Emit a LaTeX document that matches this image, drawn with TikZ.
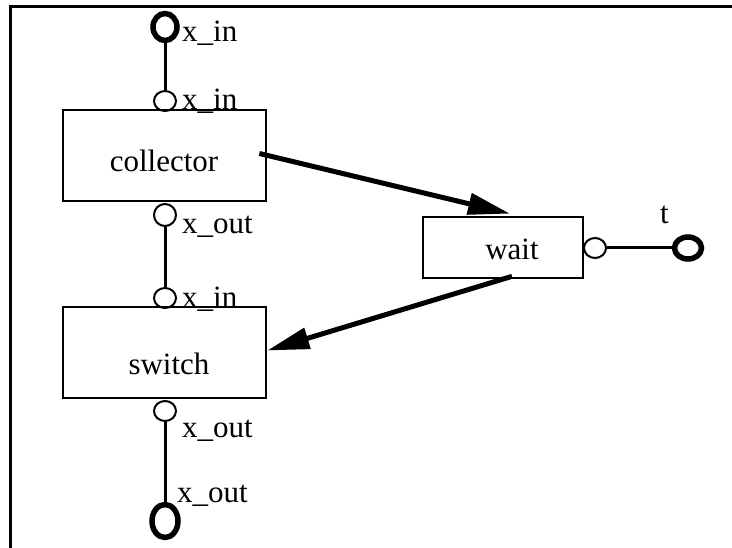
\documentclass[tikz,border=0pt]{standalone}
\usepackage{fontspec}
\setmainfont{Liberation Serif}
\usetikzlibrary{shapes.geometric,arrows.meta,calc}
\begin{document}
\begin{tikzpicture}[x=1pt,y=-1pt,
  blockbox/.style={draw,line width=2.7pt,rectangle,inner sep=0pt},
  port/.style={draw,ellipse,line width=2pt,inner sep=0pt,minimum width=22pt,minimum height=20pt},
  term/.style={draw,ellipse,line width=5.5pt,inner sep=0pt},
  txt/.style={font=\fontsize{31}{36}\selectfont,inner sep=0pt},
  plbl/.style={txt,anchor=base west},
  wire/.style={line width=3pt},
  flow/.style={line width=5pt,-{Triangle[length=42pt,width=21pt]}}]
\useasboundingbox (0,0) rectangle (732,548);
\begin{scope}
\clip (0,0) rectangle (732,548);
\draw[line width=3pt] (10,560) -- (10,6.5) -- (745,6.5);
\end{scope}
% blocks
\node[blockbox,minimum width=203pt,minimum height=91pt] (collector) at (164.5,155.5) {};
\node[blockbox,minimum width=203pt,minimum height=91pt] (switch) at (164.5,352.5) {};
\node[blockbox,minimum width=160pt,minimum height=61pt] (wait) at (503,247.5) {};
\node[txt,anchor=base] (collectortxt) at (164,172) {collector};
\node[txt,anchor=base] (switchtxt) at (169,375) {switch};
\node[txt,anchor=base] (waittxt) at (512,260) {wait};
% ports
\node[port] (cin) at (165,101) {};
\node[port,minimum height=22pt] (cout) at (165,215) {};
\node[port] (sin) at (165,298) {};
\node[port] (sout) at (165,411) {};
\node[port] (wport) at (595,248) {};
% terminals
\node[term,minimum width=24pt,minimum height=27pt] (tin) at (165,27) {};
\node[term,minimum width=26pt,minimum height=33pt] (tout) at (165,521) {};
\node[term,minimum width=27pt,minimum height=22pt] (tt) at (688,248) {};
% labels
\node[plbl] (tinlbl) at (182,42) {x\_in};
\node[plbl] (cinlbl) at (182,110) {x\_in};
\node[plbl] (coutlbl) at (182,234) {x\_out};
\node[plbl] (sinlbl) at (182,308) {x\_in};
\node[plbl] (soutlbl) at (182,438) {x\_out};
\node[plbl] (toutlbl) at (177,503) {x\_out};
\node[plbl] (ttlbl) at (660,224) {t};
% wires
\draw[wire] (tin.south) -- (cin.north);
\draw[wire] (cout.south) -- (sin.north);
\draw[wire] (sout.south) -- (tout.north);
\draw[wire] (wport.east) -- (tt.west);
% flows
\draw[flow] ($(collector.east)+(-8,-2)$) -- ($(wait.north)+(7,-2)$);
\draw[flow] ($(wait.south)+(9,-3)$) -- ($(switch.east)+(0,-2)$);
\end{tikzpicture}
\end{document}
